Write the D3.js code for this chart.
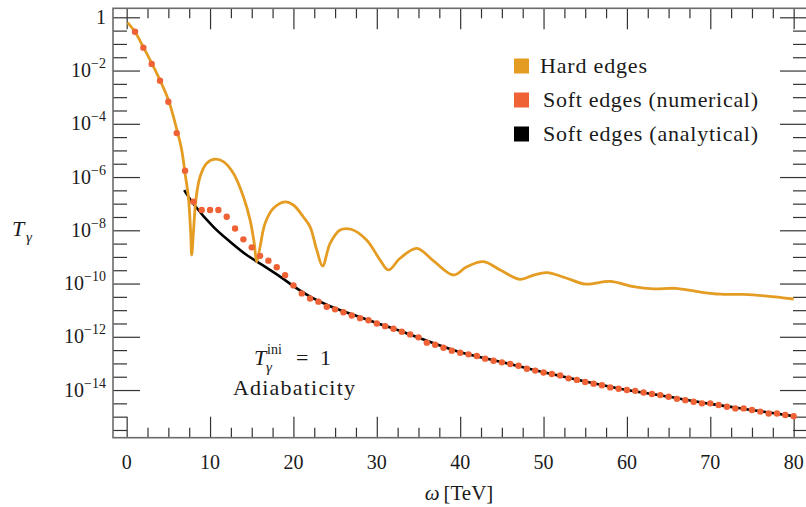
<!DOCTYPE html>
<html><head><meta charset="utf-8">
<script src="https://cdn.jsdelivr.net/npm/d3@7"></script>
<style>
body{margin:0;background:#fff}
svg{display:block}
</style>
</head><body>
<svg id="c" width="806" height="507"></svg>
<script>
// ---- data ----
const xMajorTicks = [0,10,20,30,40,50,60,70,80];
const xMinorTicks = [2.5,5,7.5,12.5,15,17.5,22.5,25,27.5,32.5,35,37.5,42.5,45,47.5,52.5,55,57.5,62.5,65,67.5,72.5,75,77.5];
const xTickLabels = ["0","10","20","30","40","50","60","70","80"];
const yMajorExps = [0,-2,-4,-6,-8,-10,-12,-14];
const yMinorExps = [-0.5,-1,-1.5,-2.5,-3,-3.5,-4.5,-5,-5.5,-6.5,-7,-7.5,-8.5,-9,-9.5,-10.5,-11,-11.5,-12.5,-13,-13.5,-14.5,-15,-15.5];
const yTickLabels = ["1","10|−2","10|−4","10|−6","10|−8","10|−10","10|−12","10|−14"];

const seriesNames = ["Hard edges","Soft edges (numerical)","Soft edges (analytical)"];
const seriesColors = ["#E49C23","#EE6236","#000000"];

// Hard edges: omega and log10(T)
const hardOmega = [0.12,1,2,3,4,5,6,6.6,7.0,7.4,7.68,7.8,8.0,8.3,8.8,9.6,10.6,11.6,12.8,14.0,14.8,15.3,15.6,16.0,16.6,17.6,19.0,20.0,21.2,22.0,22.8,23.5,24.4,25.6,26.9,28.8,30.4,31.4,32.8,34.8,36.8,39.2,40.8,42.8,44.8,47.2,48.8,50.4,52.8,55,58,60.8,63.2,65.8,68.8,71.2,74,76.8,80];
const hardLogT = [-0.2,-0.55,-1.12,-1.72,-2.36,-3.1,-4.2,-4.98,-5.86,-6.74,-8.11,-8.93,-8.11,-6.86,-5.99,-5.48,-5.33,-5.42,-5.86,-6.74,-7.61,-8.49,-9.18,-8.62,-7.74,-7.17,-6.93,-7.05,-7.5,-7.87,-8.74,-9.34,-8.49,-7.99,-7.96,-8.37,-9.12,-9.49,-9.05,-8.68,-9.15,-9.68,-9.37,-9.18,-9.49,-9.84,-9.68,-9.59,-9.8,-10.02,-9.92,-10.12,-10.2,-10.18,-10.32,-10.4,-10.41,-10.47,-10.58];

// Soft edges numerical: dots at integer omega
const softNumOmega = [1,2,3,4,5,6,7,8,9,10,11,12,13,14,15,16,17,18,19,20,21,22,23,24,25,26,27,28,29,30,31,32,33,34,35,36,37,38,39,40,41,42,43,44,45,46,47,48,49,50,51,52,53,54,55,56,57,58,59,60,61,62,63,64,65,66,67,68,69,70,71,72,73,74,75,76,77,78,79,80];
const softNumLogT = [-0.54,-1.14,-1.75,-2.38,-3.17,-4.35,-5.76,-6.93,-7.24,-7.24,-7.24,-7.49,-7.93,-8.34,-8.64,-8.96,-9.14,-9.39,-9.69,-10.07,-10.37,-10.56,-10.68,-10.87,-10.97,-11.08,-11.2,-11.3,-11.38,-11.5,-11.6,-11.7,-11.81,-11.91,-12.02,-12.22,-12.3,-12.41,-12.52,-12.6,-12.66,-12.72,-12.82,-12.9,-12.96,-13.02,-13.09,-13.2,-13.27,-13.34,-13.4,-13.45,-13.56,-13.62,-13.7,-13.76,-13.82,-13.9,-13.95,-14.0,-14.03,-14.09,-14.15,-14.19,-14.25,-14.33,-14.38,-14.44,-14.5,-14.5,-14.56,-14.63,-14.69,-14.69,-14.75,-14.81,-14.88,-14.88,-14.94,-14.98];

// Soft edges analytical
const softAnaOmega = [6.9,8,10.4,12.4,14.4,16.4,18.4,20.4,22.4,24.4,27,30,33,36,40,45,50,55,60,65,70,75,80];
const softAnaLogT = [-6.49,-7.0,-7.87,-8.43,-8.93,-9.33,-9.74,-10.18,-10.56,-10.85,-11.15,-11.48,-11.8,-12.15,-12.58,-12.95,-13.33,-13.68,-14.0,-14.25,-14.52,-14.75,-14.98];

// ---- drawing ----
const FONT = "'Liberation Serif', 'DejaVu Serif', serif";
const svg = d3.select("#c").attr("font-family", FONT);
const L = 113, R = 807, T = 8.3, B = 437.7;
const x = d3.scaleLinear().domain([-1.64, 81.6]).range([L, R]);
const y = d3.scaleLog().domain([Math.pow(10,0.338), Math.pow(10,-15.79)]).range([T, B]);
const p10 = e => Math.pow(10, e);

const defs = svg.append("defs");
defs.append("clipPath").attr("id","clip").append("rect").attr("x",L).attr("y",T).attr("width",R-L).attr("height",B-T);

const tickColor = "#333", frameColor = "#6b6b6b";
function styleAxis(g){
  g.select(".domain").remove();
  g.selectAll(".tick line").attr("stroke", tickColor).attr("stroke-width", 1.2);
  g.selectAll(".tick text").remove();
}
svg.append("g").attr("transform",`translate(0,${B})`).call(d3.axisBottom(x).tickValues(xMajorTicks).tickSize(-21)).call(styleAxis);
svg.append("g").attr("transform",`translate(0,${B})`).call(d3.axisBottom(x).tickValues(xMinorTicks).tickSize(-10)).call(styleAxis);
svg.append("g").attr("transform",`translate(0,${T})`).call(d3.axisTop(x).tickValues(xMajorTicks).tickSize(-21)).call(styleAxis);
svg.append("g").attr("transform",`translate(0,${T})`).call(d3.axisTop(x).tickValues(xMinorTicks).tickSize(-10)).call(styleAxis);
svg.append("g").attr("transform",`translate(${L},0)`).call(d3.axisLeft(y).tickValues(yMajorExps.map(p10)).tickSize(-27)).call(styleAxis);
svg.append("g").attr("transform",`translate(${L},0)`).call(d3.axisLeft(y).tickValues(yMinorExps.map(p10)).tickSize(-14)).call(styleAxis);
svg.append("g").attr("transform",`translate(${R},0)`).call(d3.axisRight(y).tickValues(yMajorExps.map(p10)).tickSize(-27)).call(styleAxis);
svg.append("g").attr("transform",`translate(${R},0)`).call(d3.axisRight(y).tickValues(yMinorExps.map(p10)).tickSize(-14)).call(styleAxis);

svg.append("rect").attr("x",L).attr("y",T).attr("width",R-L).attr("height",B-T)
  .attr("fill","none").attr("stroke",frameColor).attr("stroke-width",1.6);

const txt = (g) => g.append("text").attr("font-family", FONT).attr("fill", "#1a1a1a");

// x labels
svg.append("g").selectAll("text").data(xMajorTicks).join("text")
  .attr("font-family", FONT).attr("fill","#1a1a1a")
  .attr("x", d => x(d)).attr("y", B + 31)
  .attr("text-anchor","middle").attr("font-size",20)
  .text((d,i) => xTickLabels[i]);

// y labels
const yl = svg.append("g").selectAll("text").data(yMajorExps).join("text")
  .attr("font-family", FONT).attr("fill","#1a1a1a")
  .attr("x", 106).attr("y", d => y(p10(d)) + 6.5)
  .attr("text-anchor","end").attr("font-size",20);
yl.each(function(d,i){
  const parts = yTickLabels[i].split("|");
  const t = d3.select(this);
  t.append("tspan").text(parts[0]);
  if (parts[1]) t.append("tspan").attr("dy",-9).attr("font-size",14).text(parts[1]);
});

// axis titles
const xt = txt(svg).attr("x", 459).attr("y", 500).attr("text-anchor","middle").attr("font-size",21);
xt.append("tspan").attr("font-style","italic").text("ω");
xt.append("tspan").attr("dx",4).text("[TeV]");
txt(svg).attr("x", 12).attr("y", 236).attr("font-size",22).attr("font-style","italic").text("T");
txt(svg).attr("x", 26).attr("y", 242).attr("font-size",15).attr("font-style","italic").text("γ");

// series
const plot = svg.append("g").attr("clip-path","url(#clip)");
const line = d3.line().x(d => x(d[0])).y(d => y(p10(d[1]))).curve(d3.curveCatmullRom.alpha(0.5));
plot.append("path").datum(softAnaOmega.map((w,i)=>[w,softAnaLogT[i]]))
  .attr("d", line).attr("fill","none").attr("stroke",seriesColors[2]).attr("stroke-width",2.6);
plot.append("path").datum(hardOmega.map((w,i)=>[w,hardLogT[i]]))
  .attr("d", line).attr("fill","none").attr("stroke",seriesColors[0]).attr("stroke-width",2.8).attr("stroke-linejoin","round");
plot.append("g").selectAll("circle").data(softNumOmega.map((w,i)=>[w,softNumLogT[i]])).join("circle")
  .attr("cx", d => x(d[0])).attr("cy", d => y(p10(d[1]))).attr("r", 3.2).attr("fill", seriesColors[1]);

// annotation
txt(svg).attr("x", 254).attr("y", 365).attr("font-size",22).attr("font-style","italic").text("T");
txt(svg).attr("x", 267).attr("y", 354).attr("font-size",14).text("ini");
txt(svg).attr("x", 266).attr("y", 372).attr("font-size",15).attr("font-style","italic").text("γ");
txt(svg).attr("x", 296).attr("y", 365).attr("font-size",22).attr("textLength",35).attr("lengthAdjust","spacing").text("= 1");
txt(svg).attr("x", 233).attr("y", 395).attr("font-size",22).attr("textLength",122).attr("lengthAdjust","spacing").text("Adiabaticity");

// legend
const lg = svg.append("g");
const rowsY = [66, 100, 134];
const textX = [540, 543, 543];
const textW = [107, 215, 215];
seriesNames.forEach((n,i)=>{
  lg.append("rect").attr("x",514).attr("y",rowsY[i]-7.5).attr("width",15).attr("height",15).attr("fill",seriesColors[i]);
  txt(lg).attr("x",textX[i]).attr("y",rowsY[i]+7).attr("font-size",22)
    .attr("textLength",textW[i]).attr("lengthAdjust","spacing").text(n);
});
</script>
</body></html>
